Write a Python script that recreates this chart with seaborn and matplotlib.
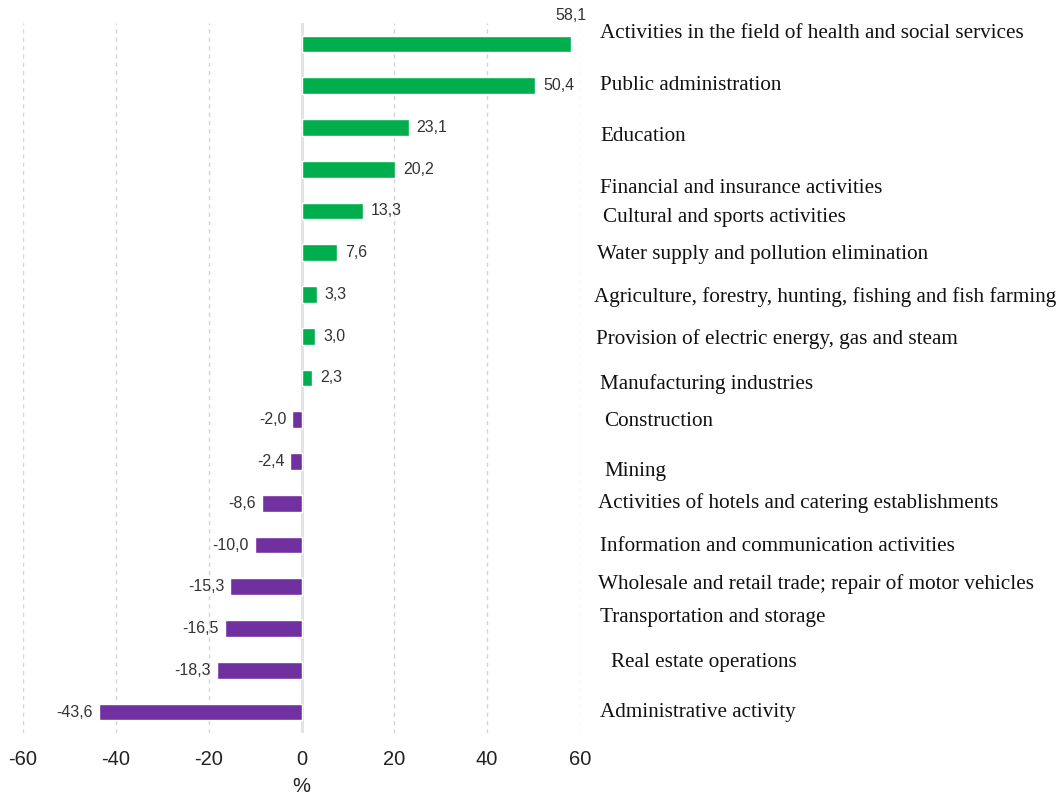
import matplotlib
matplotlib.use("Agg")
import matplotlib.pyplot as plt
import seaborn as sns
import pandas as pd

categories = [
    "Activities in the field of health and social services",
    "Public administration",
    "Education",
    "Financial and insurance activities",
    "Cultural and sports activities",
    "Water supply and pollution elimination",
    "Agriculture, forestry, hunting, fishing and fish farming",
    "Provision of electric energy, gas and steam",
    "Manufacturing industries",
    "Construction",
    "Mining",
    "Activities of hotels and catering establishments",
    "Information and communication activities",
    "Wholesale and retail trade; repair of motor vehicles",
    "Transportation and storage",
    "Real estate operations",
    "Administrative activity",
]
values = [58.1, 50.4, 23.1, 20.2, 13.3, 7.6, 3.3, 3.0, 2.3,
          -2.0, -2.4, -8.6, -10.0, -15.3, -16.5, -18.3, -43.6]
x_ticks = [-60, -40, -20, 0, 20, 40, 60]
x_label = "%"

# label layout (style only): vertical nudges in category units, horizontal in px
label_dy = [-0.24, 0.0, 0.22, 0.46, 0.15, 0.05, 0.05, 0.07, 0.15,
            0.03, 0.24, 0.0, 0.03, -0.07, -0.26, -0.19, 0.0]
label_dx = [0, 0, 0, 0, 3, -3, -6, -4, 0, 4, 4, -2, 0, -2, 0, 11, 0]

GREEN = "#00AE4D"
PURPLE = "#7030A0"

df = pd.DataFrame({"cat": categories, "val": values})
df["sign"] = ["pos" if v >= 0 else "neg" for v in values]

sns.set_theme(style="white")
fig = plt.figure(figsize=(10.59, 7.98), dpi=100)
ax = fig.add_axes([23 / 1059, 1 - 733 / 798, (580 - 23) / 1059, (733 - 23) / 798])

sns.barplot(data=df, y="cat", x="val", hue="sign", order=categories,
            palette={"pos": GREEN, "neg": PURPLE}, orient="h",
            width=0.4, legend=False, ax=ax, saturation=1, dodge=False)

ax.set_xlim(-60, 60)
ax.set_ylim(len(categories) - 0.5, -0.5)
for t in x_ticks:
    if t == 0:
        ax.axvline(0, color="#e3e3e3", lw=2.2, zorder=0)
    else:
        ax.axvline(t, color="#d4d4d4", lw=1, ls=(0, (3, 3)), zorder=0)

for s in ax.spines.values():
    s.set_visible(False)
ax.set_xticks(x_ticks)
ax.set_xticklabels([str(t) for t in x_ticks], fontsize=14.5, color="#222222",
                   family="Liberation Sans")
ax.tick_params(axis="x", length=0, pad=12)
ax.set_yticks([])
ax.set_ylabel("")
ax.set_xlabel(x_label, fontsize=14.5, color="#222222", family="Liberation Sans",
              labelpad=6)

px = 557 / 120.0  # px per unit
vfs = 11.5
for i, v in enumerate(values):
    txt = f"{v:.1f}".replace(".", ",")
    if i == 0:
        ax.text(v, i - 0.5 - 0.18, txt, ha="center", va="center", fontsize=vfs,
                color="#333333", family="Liberation Sans", clip_on=False)
    elif v >= 0:
        ax.text(v + 8 / px, i, txt, ha="left", va="center", fontsize=vfs,
                color="#333333", family="Liberation Sans")
    else:
        ax.text(v - 6 / px, i, txt, ha="right", va="center", fontsize=vfs,
                color="#333333", family="Liberation Sans")

for i, c in enumerate(categories):
    x = 60 + (600 - 580 + label_dx[i]) / px
    ax.text(x, i + label_dy[i], c, ha="left", va="center", fontsize=15.2,
            family="Liberation Serif", color="#111111", clip_on=False)

fig.savefig("out.png", dpi=100)
